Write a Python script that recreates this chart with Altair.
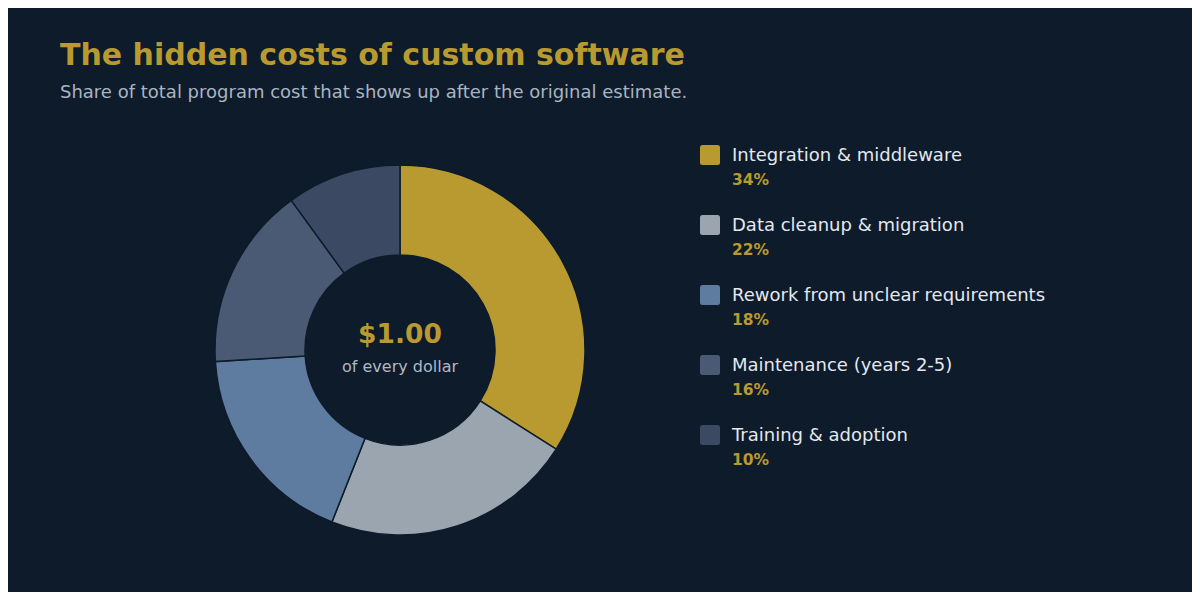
import altair as alt
import pandas as pd

names = ["Integration & middleware", "Data cleanup & migration",
         "Rework from unclear requirements", "Maintenance (years 2-5)",
         "Training & adoption"]
shares = [34, 22, 18, 16, 10]
colors = ["#b89a30", "#9aa5b0", "#5e7ba0", "#4a5a74", "#3b4a62"]

BG = "#0e1b2b"
GOLD = "#b89a30"

df = pd.DataFrame({
    "name": names,
    "share": shares,
    "idx": list(range(len(names))),
    "pct": [f"{s}%" for s in shares],
})

color_scale = alt.Scale(domain=names, range=colors)

donut = alt.Chart(df).mark_arc(
    radius=185, radius2=95, stroke=BG, strokeWidth=1.5
).encode(
    theta=alt.Theta("share:Q", stack=True),
    order=alt.Order("idx:Q"),
    color=alt.Color("name:N", scale=color_scale, legend=None),
    x=alt.value(392), y=alt.value(342),
)

center = pd.DataFrame({"t": ["$1.00"], "s": ["of every dollar"]})
c1 = alt.Chart(center).mark_text(
    font="DejaVu Sans", fontSize=26.5, fontWeight="bold", color=GOLD,
    align="center", baseline="alphabetic"
).encode(text="t:N", x=alt.value(392), y=alt.value(335))
c2 = alt.Chart(center).mark_text(
    font="DejaVu Sans", fontSize=16, color="#aeb8c4",
    align="center", baseline="alphabetic"
).encode(text="s:N", x=alt.value(392), y=alt.value(364))

titles = pd.DataFrame({
    "title": ["The hidden costs of custom software"],
    "sub": ["Share of total program cost that shows up after the original estimate."],
})
t1 = alt.Chart(titles).mark_text(
    font="DejaVu Sans", fontSize=30, fontWeight="bold", color=GOLD,
    align="left", baseline="alphabetic"
).encode(text="title:N", x=alt.value(52), y=alt.value(56.5))
t2 = alt.Chart(titles).mark_text(
    font="DejaVu Sans", fontSize=18, color="#a9b4c1",
    align="left", baseline="alphabetic"
).encode(text="sub:N", x=alt.value(52), y=alt.value(90))

rowy = alt.Y("idx:O", scale=alt.Scale(type="point", range=[147, 427], padding=0), axis=None)

rounded = ("M -0.75,-1 L 0.75,-1 Q 1,-1 1,-0.75 L 1,0.75 Q 1,1 0.75,1 L -0.75,1 "
           "Q -1,1 -1,0.75 L -1,-0.75 Q -1,-1 -0.75,-1 Z")
sw = alt.Chart(df).mark_point(
    shape=rounded, filled=True, size=400, opacity=1, strokeWidth=0
).encode(
    x=alt.value(702), y=rowy,
    color=alt.Color("name:N", scale=color_scale, legend=None),
)
lab = alt.Chart(df).mark_text(
    font="DejaVu Sans", fontSize=18, color="#e4e8ee",
    align="left", baseline="alphabetic", dy=6
).encode(x=alt.value(724), y=rowy, text="name:N")
pct = alt.Chart(df).mark_text(
    font="DejaVu Sans", fontSize=15.5, fontWeight="bold", color=GOLD,
    align="left", baseline="alphabetic", dy=30
).encode(x=alt.value(724), y=rowy, text="pct:N")

chart = alt.layer(donut, c1, c2, t1, t2, sw, lab, pct).properties(
    width=1184, height=584, background=BG, padding=0,
    autosize=alt.AutoSizeParams(type="none"),
).configure_view(stroke=None)

chart.save("out.html", embed_options={"renderer": "svg", "actions": False})
